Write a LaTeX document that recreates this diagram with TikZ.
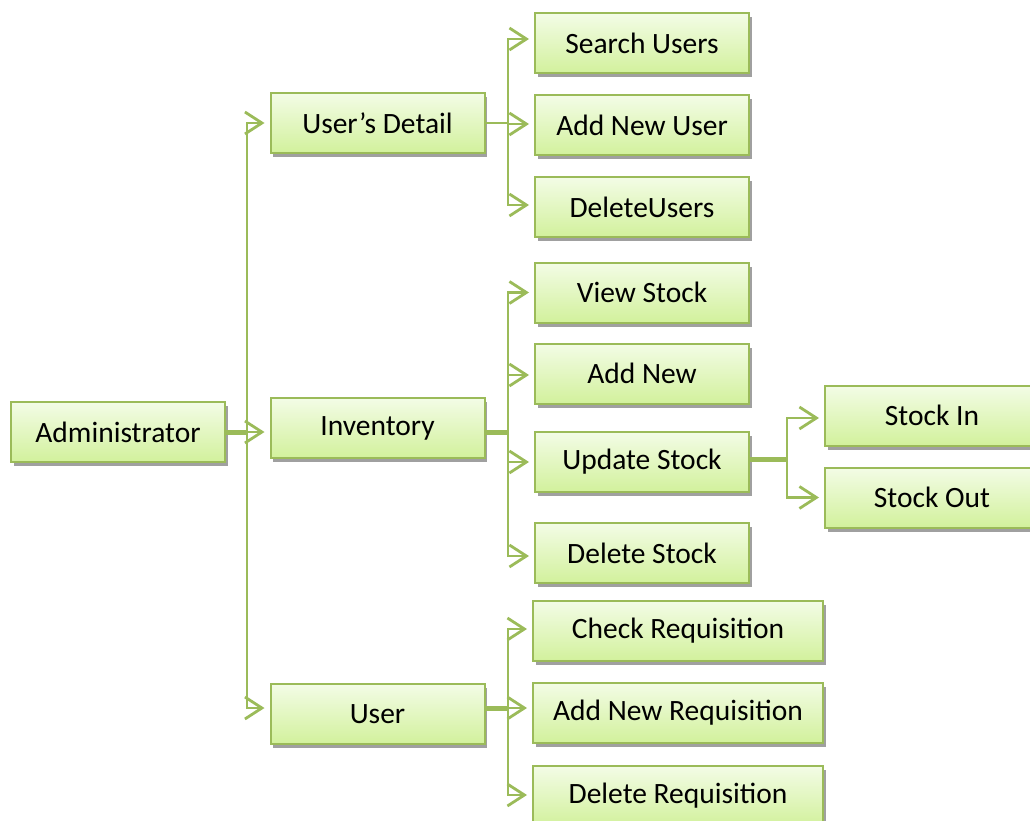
\documentclass[tikz,border=0pt]{standalone}
\usepackage{fontspec}
\setmainfont{Carlito}
\usetikzlibrary{arrows.meta,shadows}

\definecolor{linegreen}{RGB}{155,187,89}
\definecolor{boxline}{RGB}{155,187,89}
\definecolor{boxtop}{RGB}{243,252,230}
\definecolor{boxbot}{RGB}{210,241,156}
\definecolor{shadowgray}{RGB}{160,160,160}

\tikzset{
  box/.style={draw=boxline, line width=2pt, top color=boxtop, bottom color=boxbot,
    minimum height=60pt, inner sep=0pt, font=\fontsize{29.5}{32}\selectfont,
    drop shadow={shadow xshift=2.5pt, shadow yshift=-4pt, fill=shadowgray, opacity=1}},
  nbox/.style={box, minimum width=214pt},
  wbox/.style={box, minimum width=290pt},
  conn/.style={draw=linegreen, line width=2.8pt,
    -{Straight Barb[length=17pt, width=22pt]}, shorten >=5pt},
  stub/.style={draw=linegreen, line width=5pt},
}

\begin{document}
\begin{tikzpicture}[x=1pt, y=-1pt]
\path[use as bounding box] (0,0) rectangle (1030,821);
\clip (0,0) rectangle (1030,821);

% root
\node[nbox] (admin) at (118,432) {Administrator};

% first level
\node[nbox] (ud)  at (377.5,123) {User’s Detail};
\node[nbox] (inv) at (377.5,428) {Inventory};
\node[nbox] (usr) at (377.5,714) {User};

% user's detail branch
\node[nbox] (su)  at (642,43.5)  {Search Users};
\node[nbox] (anu) at (642,125.5) {Add New User};
\node[nbox] (du)  at (642,207)   {DeleteUsers};

% inventory branch
\node[nbox] (vs)  at (642,292.5) {View Stock};
\node[nbox] (an)  at (642,373.5) {Add New};
\node[nbox] (ups) at (642,462)   {Update Stock};
\node[nbox] (ds)  at (642,553)   {Delete Stock};

% update stock branch
\node[nbox] (si) at (932,415.5) {Stock In};
\node[nbox] (so) at (932,497.5) {Stock Out};

% user branch
\node[wbox] (cr)  at (678,631)   {Check Requisition};
\node[wbox] (anr) at (678,712.5) {Add New Requisition};
\node[wbox] (dr)  at (678,796)   {Delete Requisition};

% administrator connectors
\draw[stub] (admin.east) -- ++(21,0);
\draw[conn] (admin.east) -- ++(21,0) |- (ud.west);
\draw[conn] (admin.east) -- ++(21,0) |- ([yshift=-4pt]inv.west);
\draw[conn] (admin.east) -- ++(21,0) |- ([yshift=6pt]usr.west);

% user's detail connectors
\draw[conn] (ud.east) -- ++(22.5,0) |- ([yshift=4.5pt]su.west);
\draw[conn] (ud.east) -- ++(22.5,0) |- ([yshift=1.5pt]anu.west);
\draw[conn] (ud.east) -- ++(22.5,0) |- ([yshift=2pt]du.west);

% inventory connectors
\draw[stub] ([yshift=-4pt]inv.east) -- ++(22.5,0);
\draw[conn] ([yshift=-4pt]inv.east) -- ++(22.5,0) |- (vs.west);
\draw[conn] ([yshift=-4pt]inv.east) -- ++(22.5,0) |- ([yshift=-1.5pt]an.west);
\draw[conn] ([yshift=-4pt]inv.east) -- ++(22.5,0) |- (ups.west);
\draw[conn] ([yshift=-4pt]inv.east) -- ++(22.5,0) |- ([yshift=-3pt]ds.west);

% update stock connectors
\draw[stub] ([yshift=3pt]ups.east) -- ++(37,0);
\draw[conn] ([yshift=3pt]ups.east) -- ++(37,0) |- ([yshift=-2.5pt]si.west);
\draw[conn] ([yshift=3pt]ups.east) -- ++(37,0) |- (so.west);

% user connectors
\draw[stub] ([yshift=6pt]usr.east) -- ++(22.5,0);
\draw[conn] ([yshift=6pt]usr.east) -- ++(22.5,0) |- ([yshift=2pt]cr.west);
\draw[conn] ([yshift=6pt]usr.east) -- ++(22.5,0) |- ([yshift=4.5pt]anr.west);
\draw[conn] ([yshift=6pt]usr.east) -- ++(22.5,0) |- ([yshift=1pt]dr.west);
\end{tikzpicture}
\end{document}
